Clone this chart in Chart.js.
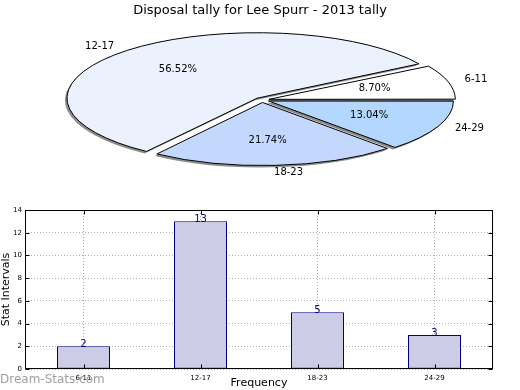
<!DOCTYPE html>
<html>
<head>
<meta charset="utf-8">
<script src="https://cdn.jsdelivr.net/npm/chart.js@4.4.0/dist/chart.umd.min.js"></script>
<style>
body{margin:0;width:520px;height:390px;overflow:hidden;background:#fff;position:relative;font-family:"DejaVu Sans";}
#pieBox{position:absolute;left:0;top:0;width:520px;height:195px;}
#barBox{position:absolute;left:0;top:195px;width:520px;height:195px;}
#mark{position:absolute;left:0;top:372px;font:12px "DejaVu Sans";color:#a0a0a0;}
</style>
</head>
<body>
<div id="pieBox"><canvas id="pieChart"></canvas></div>
<div id="barBox"><canvas id="barChart"></canvas></div>
<div id="mark">Dream-Stats.com</div>
<script>
let categories=["6-11","12-17","18-23","24-29"];
let counts=[2,13,5,3];
let pieColors=["#ffffff","#ebf2fe","#c4d8fe","#b4d7ff"];
let yTicks=[0,2,4,6,8,10,12,14];

// matplotlib goes counter clockwise from east, chart.js clockwise -> reverse
let pieLabels=categories.slice().reverse();
let pieValues=counts.slice().reverse();
let pieFill=pieColors.slice().reverse();
let total=counts.reduce((a,b)=>a+b,0);

let ellipse={x:262,y:100,rx:183,ry:63};   // where the squashed pie goes
let labelEllipse={x:259.5,y:99.5,rx:187,ry:64}; // text placement

function toScreen(arc,px,py){
  return [ellipse.x+(px-arc.x)*ellipse.rx/arc.outerRadius, ellipse.y+(py-arc.y)*ellipse.ry/arc.outerRadius];
}

let squash={
  id:'squash',
  beforeDatasetsDraw(chart){
    let ctx=chart.ctx;
    let arc=chart.getDatasetMeta(0).data[0];
    ctx.save();
    ctx.translate(ellipse.x,ellipse.y);
    ctx.scale(ellipse.rx/arc.outerRadius, ellipse.ry/arc.outerRadius);
    ctx.translate(-arc.x,-arc.y);
    ctx.shadowColor='rgba(0,0,0,0.45)';
    ctx.shadowOffsetX=-2;
    ctx.shadowOffsetY=2;
    ctx.shadowBlur=0;
    let stroke=CanvasRenderingContext2D.prototype.stroke;
    ctx.stroke=function(){ //draw outline with 1px, not squashed
      this.save();
      this.setTransform(1,0,0,1,0,0);
      this.shadowColor='transparent';
      stroke.apply(this,arguments);
      this.restore();
    };
  },
  afterDatasetsDraw(chart){
    let ctx=chart.ctx;
    delete ctx.stroke;
    ctx.restore();
    let meta=chart.getDatasetMeta(0);
    ctx.save();
    ctx.fillStyle='#000';
    ctx.font='10px "DejaVu Sans"';
    ctx.textBaseline='middle';
    meta.data.forEach((arc,i)=>{
      let mid=(arc.startAngle+arc.endAngle)/2;
      let e=(arc.options.offset||0)/4/arc.outerRadius;
      let c=Math.cos(mid), s=Math.sin(mid);
      let E=labelEllipse;
      ctx.textAlign=c<0?'right':'left';
      ctx.fillText(pieLabels[i],E.x+E.rx*c*(1.1+e),E.y+E.ry*s*(1.1+e));
      ctx.textAlign='center';
      ctx.fillText((100*pieValues[i]/total).toFixed(2)+'%',E.x+E.rx*c*(0.6+e),E.y+E.ry*s*(0.6+e));
    });
    ctx.restore();
  }
};

new Chart(document.getElementById("pieChart"),{
  type:'pie',
  data:{
    labels:pieLabels,
    datasets:[{
      data:pieValues,
      backgroundColor:pieFill,
      borderColor:'#000',
      borderWidth:1,
      offset:12
    }]
  },
  options:{
    responsive:true,
    maintainAspectRatio:false,
    animation:false,
    rotation:90,
    plugins:{
      legend:{display:false},
      tooltip:{enabled:false},
      title:{display:true,text:'Disposal tally for Lee Spurr - 2013 tally',color:'#000',font:{family:'DejaVu Sans',size:13,weight:'normal'},padding:{top:3,bottom:10}}
    }
  },
  plugins:[squash]
});

let frame={
  id:'frame',
  afterDraw(chart){
    let ctx=chart.ctx, a=chart.chartArea;
    let l=Math.round(a.left)+0.5, t=Math.round(a.top)+0.5, r=Math.round(a.right)-0.5, b=Math.round(a.bottom)-0.5;
    ctx.save();
    ctx.strokeStyle='#000';
    ctx.lineWidth=1;
    ctx.beginPath();
    yTicks.forEach(v=>{
      let y=Math.round(chart.scales.y.getPixelForValue(v))+0.5;
      ctx.moveTo(l,y);ctx.lineTo(l+4,y);
      ctx.moveTo(r,y);ctx.lineTo(r-4,y);
    });
    categories.forEach((c,i)=>{
      let x=Math.round(chart.scales.x.getPixelForValue(i))+0.5;
      ctx.moveTo(x,b);ctx.lineTo(x,b-4);
      ctx.moveTo(x,t);ctx.lineTo(x,t+4);
    });
    ctx.stroke();
    ctx.strokeRect(l,t,r-l,b-t);
    ctx.restore();
  }
};

let valueLabels={
  id:'valueLabels',
  afterDatasetsDraw(chart){
    let ctx=chart.ctx;
    ctx.save();
    ctx.fillStyle='#000080';
    ctx.font='10px "DejaVu Sans"';
    ctx.textAlign='center';
    ctx.textBaseline='alphabetic';
    chart.getDatasetMeta(0).data.forEach((bar,i)=>{
      ctx.fillText(String(counts[i]),bar.x,bar.y+1);
    });
    ctx.restore();
  }
};

new Chart(document.getElementById("barChart"),{
  type:'bar',
  data:{
    labels:categories,
    datasets:[{
      data:counts,
      backgroundColor:'#ccccE6',
      borderColor:'#000080',
      borderWidth:1,
      borderSkipped:false,
      barPercentage:0.453,
      categoryPercentage:1
    }]
  },
  options:{
    responsive:true,
    maintainAspectRatio:false,
    animation:false,
    layout:{padding:{top:15,right:27,left:0,bottom:0}},
    plugins:{legend:{display:false},tooltip:{enabled:false}},
    scales:{
      x:{
        offset:true,
        z:1,
        grid:{offset:false,color:'#b0b0b0',drawTicks:false},
        border:{display:false,dash:[1,2]},
        ticks:{font:{size:7,family:'DejaVu Sans'},color:'#000',padding:5},
        title:{display:true,text:'Frequency',color:'#000',font:{size:11,family:'DejaVu Sans'},padding:0},
        afterFit(s){s.height=21;}
      },
      y:{
        min:0,
        max:14,
        z:1,
        grid:{color:'#b0b0b0',drawTicks:false},
        border:{display:false,dash:[1,2]},
        ticks:{stepSize:2,font:{size:7,family:'DejaVu Sans'},color:'#000',padding:3},
        title:{display:true,text:'Stat Intervals',color:'#000',font:{size:11,family:'DejaVu Sans'},padding:0},
        afterFit(s){s.width=25;}
      }
    }
  },
  plugins:[frame,valueLabels]
});
</script>
</body>
</html>
